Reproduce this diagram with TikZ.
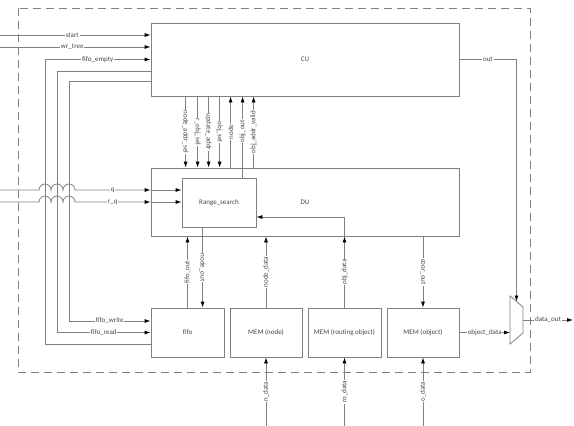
\documentclass[tikz,border=0pt]{standalone}
\usepackage{fontspec}
\setmainfont{Carlito}
\usepackage{tikz}
\usetikzlibrary{arrows.meta, positioning, calc}
\definecolor{wiregray}{HTML}{808080}
\definecolor{labelgray}{HTML}{464646}

\begin{document}
\begin{tikzpicture}[x=1pt, y=-1pt,
    block/.style={draw=wiregray, line width=0.8pt, fill=white, inner sep=0pt,
                  font=\fontsize{7}{8}\selectfont, text=labelgray},
    arr/.style={draw=wiregray, line width=0.8pt,
                -{Latex[length=6pt, width=4pt, color=black]}},
    wire/.style={draw=wiregray, line width=0.8pt},
    sig/.style={fill=white, inner sep=0.8pt, font=\fontsize{7}{8}\selectfont, text=labelgray},
    frame/.style={draw=wiregray, line width=0.8pt, dash pattern=on 8pt off 5pt}
  ]
    \useasboundingbox (0,0) rectangle (574,426);
    \draw[frame] (18,8) rectangle (530,372);

    % blocks
    \node[block, minimum width=308pt, minimum height=73pt] (cu) at (305,59.5) {CU};
    \node[block, minimum width=308pt, minimum height=68pt] (du) at (305,202) {DU};
    \node[block, minimum width=74pt, minimum height=49pt] (rs) at (219,202.5) {Range\_search};
    \node[block, minimum width=73pt, minimum height=49pt] (fifo) at (187.5,332.5) {fifo};
    \node[block, minimum width=72pt, minimum height=49pt] (memnode) at (266,332.5) {MEM (node)};
    \node[block, minimum width=73pt, minimum height=49pt] (memro) at (344.5,332.5) {MEM (routing object)};
    \node[block, minimum width=72pt, minimum height=49pt] (memobj) at (423,332.5) {MEM (object)};

    % output mux
    \coordinate (mux) at (516.5,320);
    \coordinate (muxleft) at ($(mux)+(-6.5,0)$);
    \coordinate (muxright) at ($(mux)+(6.5,0)$);
    \coordinate (muxtop) at ($(mux)+(0,-18.5)$);
    \draw[wire] ($(mux)+(-6.5,-24)$) -- ($(mux)+(6.5,-13)$) -- ($(mux)+(6.5,13)$)
      -- ($(mux)+(-6.5,24)$) -- cycle;

    % control inputs
    \coordinate (startin) at (0,35);
    \coordinate (treein) at (0,47);
    \draw[arr] (startin) -- (startin -| cu.west) node[sig, pos=0.48] {start};
    \draw[arr] (treein) -- (treein -| cu.west) node[sig, pos=0.48] {wr\_tree};

    % fifo handshake
    \coordinate (emptycol) at (45,0);
    \coordinate (readcol) at (57,0);
    \coordinate (writecol) at (69,0);
    \coordinate (fifowr) at ([yshift=11.5pt]fifo.west);
    \draw[arr] ([yshift=-11.5pt]fifo.west) -| (emptycol |- cu.west) -- (cu.west)
      node[sig, midway] {fifo\_empty};
    \draw[arr] ([yshift=-11.5pt]cu.west) -| (readcol |- fifo.west) -- (fifo.west)
      node[sig, midway] {fifo\_read};
    \draw[arr] ([yshift=-21.5pt]cu.west) -| (writecol |- fifowr) -- (fifowr)
      node[sig, midway] {fifo\_write};

    % query inputs, hopping over the fifo wires
    \coordinate (qport) at ([yshift=12pt]du.west);
    \coordinate (qin) at (0,190);
    \coordinate (rqin) at (0,202);
    \draw[arr] (qin) -- ($(qin -| emptycol)+(-6,0)$)
      arc[start angle=180, end angle=0, radius=6pt]
      arc[start angle=180, end angle=0, radius=6pt]
      arc[start angle=180, end angle=0, radius=6pt] -- (qport) node[sig, midway] {q};
    \draw[arr] (rqin) -- ($(rqin -| emptycol)+(-6,0)$)
      arc[start angle=180, end angle=0, radius=6pt]
      arc[start angle=180, end angle=0, radius=6pt]
      arc[start angle=180, end angle=0, radius=6pt] -- (du.west) node[sig, midway] {r\_q};
    \draw[arr] (qport) -- (qport -| rs.west);
    \draw[arr] (du.west) -- (du.west -| rs.west);

    % CU <-> DU
    \foreach \dx/\lbl in {35/node\_addr\_sel, 47/r\_obj\_sel, 58/update\_addr, 69/obj\_sel}
      \draw[arr] ([xshift=\dx pt]cu.south west) -- ([xshift=\dx pt]du.north west)
        node[sig, midway, rotate=-90] {\lbl};
    \foreach \dx/\lbl in {80/node, 103/obj\_addr\_valid}
      \draw[arr] ([xshift=\dx pt]du.north west) -- ([xshift=\dx pt]cu.south west)
        node[sig, midway, rotate=90] {\lbl};
    \draw[arr] ([xshift=61pt]rs.north west) -- ([xshift=92pt]cu.south west)
      node[sig, pos=0.57, rotate=90] {obj\_out};

    % DU <-> memories
    \draw[arr] (fifo.north) -- (fifo.north |- du.south) node[sig, midway, rotate=90] {fifo\_out};
    \draw[arr] ([xshift=21pt]rs.south west) -- ([xshift=52pt]fifo.north west)
      node[sig, midway, rotate=-90] {node\_out};
    \draw[arr] (memnode.north) -- (memnode.north |- du.south) node[sig, midway, rotate=90] {node\_data};
    \draw[arr] (memro.north) -- (memro.north |- du.south) node[sig, midway, rotate=90] {obj\_data};
    \draw[arr] (memro.north |- du.south) |- ([yshift=-14.5pt]rs.east);
    \draw[arr] (memobj.north |- du.south) -- (memobj.north) node[sig, midway, rotate=-90] {coor\_out};

    % memory inputs
    \foreach \mem/\lbl in {memnode/n\_data, memro/ro\_data, memobj/o\_data} {
      \coordinate (\mem-in) at (\mem.south |- 0,426);
      \draw[arr] (\mem-in) -- (\mem.south) node[sig, midway, rotate=90] {\lbl};
    }

    % output select
    \draw[arr] (memobj.east) -- (memobj.east -| muxleft) node[sig, midway] {object\_data};
    \draw[arr] (cu.east) -| (muxtop) node[sig, pos=0.25] {out};
    \coordinate (dout) at (573,320);
    \draw[arr] (muxright) -- (dout) node[sig, midway] {data\_out};
\end{tikzpicture}
\end{document}
